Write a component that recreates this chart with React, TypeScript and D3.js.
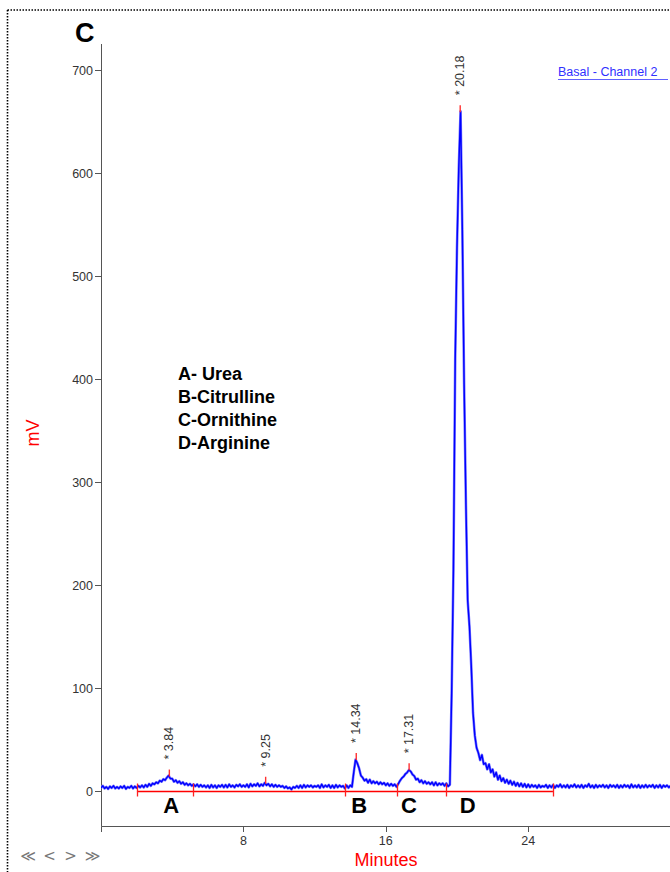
import React from "react";
import * as d3 from "d3";

// Detector signal (mV), sampled every 0.1 min from 0 to 32 min
const sampleStep = 0.1;
const signalMv = [
  3, 5, 2.5, 4, 2, 4.5, 3, 5, 2.5, 4,
  2.5, 4.5, 3, 5, 2, 4, 3, 5, 2.5, 4.5,
  3, 5, 3.5, 5.5, 3.5, 6, 4, 7, 5, 7.5,
  6.5, 8.5, 7.5, 10, 9, 11.5, 10.5, 13, 15, 12,
  12, 9, 10.5, 8, 9.5, 7, 8.5, 6, 7.5, 5.5,
  7, 5, 6.5, 4.5, 6.5, 4, 6, 4, 5.5, 3.5,
  5.5, 3, 6, 3.5, 5.5, 3, 5.5, 4, 6, 3.5,
  6, 3.5, 6.5, 4, 5.5, 3.5, 6, 4.5, 6.5, 4,
  5.5, 4, 6.5, 3.5, 7, 4.5, 6.5, 5, 7.5, 4.5,
  6.5, 5, 8, 5.5, 7, 4.5, 6.5, 4, 6, 4,
  5.5, 4, 5, 3, 4.5, 2.5, 3.5, 1.5, 4, 3,
  5, 3, 5.5, 3, 6, 3.5, 5.5, 4, 5.5, 3.5,
  5, 4, 5.5, 3, 6.5, 3.5, 5.5, 4, 6, 3,
  5.5, 3, 6, 3.5, 5.5, 4, 5, 2.5, 5.5, 3,
  5.5, 4, 18, 30.5, 27, 22, 15, 13, 10, 11.5,
  8, 11, 7.5, 9.5, 7.5, 9, 6.5, 8.5, 6.5, 8,
  5.5, 7.5, 5, 7, 5, 6.5, 4, 7, 10, 12.5,
  14, 16.5, 18, 20.5, 19, 16, 14.5, 11, 12, 8.5,
  10.5, 7.5, 9.5, 7, 8.5, 6.5, 8.5, 5.5, 8.5, 5.5,
  7.5, 6, 7.5, 5, 7.5, 4.5, 6, 95, 215, 420,
  528, 605, 660, 545, 395, 280, 185, 160, 122, 76,
  54, 42, 37, 30, 35, 26, 27, 21, 26, 18,
  21, 14, 18, 11, 15, 9.5, 12.5, 8, 11, 7,
  10, 6, 9, 5, 8, 4.5, 7.5, 4, 7, 3.5,
  6.5, 3.5, 6, 4, 5.5, 3, 6, 3.5, 5, 4,
  6, 3, 5.5, 3.5, 6, 3, 5.5, 4, 6.5, 3.5,
  5.5, 3.5, 6, 3, 5.5, 4, 6.5, 3.5, 5.5, 3.5,
  6, 3, 5.5, 4, 7, 3.5, 5.5, 3, 6, 3.5,
  5.5, 4, 6, 3.5, 5.5, 3, 6, 4, 5.5, 3.5,
  6, 3, 5.5, 3.5, 6, 4, 5.5, 3, 6.5, 3.5,
  5.5, 3.5, 6, 3, 5.5, 3.5, 6, 3.5, 5.5, 4,
  6, 3, 5.5, 3.5, 6, 3, 5.5, 4, 5.5, 3.5,
  5,
];

// Integrated peaks: retention time (min) and apex height (mV)
const peakTimes = [3.84, 9.25, 14.34, 17.31, 20.18];
const peakApexMv = [15, 8, 31, 21, 660];

// Integration start/stop marks (min) and the drawn baseline span
const baselineMarks = [2.02, 5.17, 13.71, 16.63, 19.38, 25.39];
const baselineSpan = [2.02, 25.39];

// Compound letters under the peaks
const compoundLetters = ["A", "B", "C", "D"];
const compoundLetterTimes = [3.95, 14.5, 17.3, 20.6];
const compoundNames = ["A- Urea", "B-Citrulline", "C-Ornithine", "D-Arginine"];

const yTicks = [0, 100, 200, 300, 400, 500, 600, 700];
const xTicks = [0, 8, 16, 24];
const xTickLabels = ["", "8", "16", "24"];

const W = 670;
const H = 872;
const font = "Arial, 'Liberation Sans', sans-serif";

export default function App() {
  const x = d3.scaleLinear().domain([0, 32]).range([101, 670.6]);
  const y = d3.scaleLinear().domain([0, 700]).range([791, 70]);

  const points: [number, number][] = signalMv.map((v, i) => [i * sampleStep, v]);
  const line = d3
    .line<[number, number]>()
    .x((d) => x(d[0]))
    .y((d) => y(d[1]));
  const tracePath = line(points) ?? "";

  const axisColor = "#555";
  const textColor = "#333";
  const ax = 101.5; // crisp x position of the y axis
  const ay = 826.5; // crisp y position of the x axis
  const by = y(0) + 0.5; // integration baseline

  return (
    <svg
      width={W}
      height={H}
      style={{ position: "absolute", left: 0, top: 0, background: "#fff" }}
      fontFamily={font}
    >
      <defs>
        <clipPath id="plotArea">
          <rect x={101} y={40} width={W - 101} height={786} />
        </clipPath>
      </defs>

      {/* dotted frame */}
      <line x1={7.5} y1={10} x2={W} y2={10} stroke="#000" strokeWidth={1.6} strokeDasharray="1.5 1.5" />
      <line x1={7.5} y1={10} x2={7.5} y2={H} stroke="#000" strokeWidth={1.6} strokeDasharray="1.5 1.5" />

      {/* panel letter */}
      <text x={75} y={42} fontSize={27} fontWeight="bold" fill="#000">C</text>

      {/* y axis */}
      <line x1={ax} y1={44} x2={ax} y2={ay} stroke={axisColor} strokeWidth={1} />
      {yTicks.map((t) => (
        <g key={"y" + t}>
          <line x1={95} x2={ax} y1={Math.round(y(t)) + 0.5} y2={Math.round(y(t)) + 0.5} stroke={axisColor} />
          <text x={93} y={y(t) + 4.5} fontSize={12.5} textAnchor="end" fill={textColor}>
            {t}
          </text>
        </g>
      ))}
      <text
        transform={`translate(39,433) rotate(-90)`}
        fontSize={18}
        textAnchor="middle"
        fill="#ff0000"
      >
        mV
      </text>

      {/* x axis */}
      <line x1={ax} y1={ay} x2={W} y2={ay} stroke={axisColor} strokeWidth={1} />
      {xTicks.map((t, i) => (
        <g key={"x" + t}>
          <line x1={Math.round(x(t)) + 0.5} x2={Math.round(x(t)) + 0.5} y1={ay} y2={832} stroke={axisColor} />
          <text x={x(t)} y={845} fontSize={12.5} textAnchor="middle" fill={textColor}>
            {xTickLabels[i]}
          </text>
        </g>
      ))}
      <text x={386} y={866} fontSize={18} textAnchor="middle" fill="#ff0000">
        Minutes
      </text>

      {/* chromatogram trace */}
      <g clipPath="url(#plotArea)">
        <path d={tracePath} fill="none" stroke="#7c7cff" strokeWidth={2.6} strokeLinejoin="round" />
        <path d={tracePath} fill="none" stroke="#0000ff" strokeWidth={1.4} strokeLinejoin="round" />
      </g>

      {/* integration baseline */}
      <line x1={x(baselineSpan[0])} x2={x(baselineSpan[1])} y1={by} y2={by} stroke="#ff0000" strokeWidth={1.6} />
      {baselineMarks.map((t) => (
        <line
          key={"b" + t}
          x1={Math.round(x(t)) + 0.5}
          x2={Math.round(x(t)) + 0.5}
          y1={by - 8}
          y2={by + 5}
          stroke="#ff2020"
          strokeWidth={1.3}
        />
      ))}

      {/* apex marks and retention-time labels */}
      {peakTimes.map((t, i) => (
        <g key={"p" + t}>
          <line
            x1={x(t)}
            x2={x(t)}
            y1={y(peakApexMv[i]) - 6}
            y2={y(peakApexMv[i]) + 1}
            stroke="#ff3030"
            strokeWidth={1.4}
          />
          <text
            transform={`translate(${x(t) + 4},${y(peakApexMv[i]) - 16}) rotate(-90)`}
            fontSize={12.5}
            fill={textColor}
          >
            {"* " + t.toFixed(2)}
          </text>
        </g>
      ))}

      {/* compound letters */}
      {compoundLetters.map((c, i) => (
        <text
          key={c}
          x={x(compoundLetterTimes[i])}
          y={813}
          fontSize={22}
          fontWeight="bold"
          textAnchor="middle"
          fill="#000"
        >
          {c}
        </text>
      ))}

      {/* compound key */}
      {compoundNames.map((n, i) => (
        <text key={n} x={178} y={380 + i * 23} fontSize={18} fontWeight="bold" fill="#000">
          {n}
        </text>
      ))}

      {/* channel legend */}
      <text x={558} y={76} fontSize={12.5} fill="#3030ff">
        Basal - Channel 2
      </text>
      <line x1={558} x2={668} y1={79.5} y2={79.5} stroke="#6060ff" strokeWidth={1.2} />

      {/* navigation arrows */}
      {["≪", "<", ">", "≫"].map((s, i) => (
        <text
          key={"n" + i}
          x={[28, 49.5, 70.5, 92.5][i]}
          y={861}
          fontSize={15}
          textAnchor="middle"
          fill="#777"
          fontFamily="'DejaVu Sans', sans-serif"
        >
          {s}
        </text>
      ))}
    </svg>
  );
}
